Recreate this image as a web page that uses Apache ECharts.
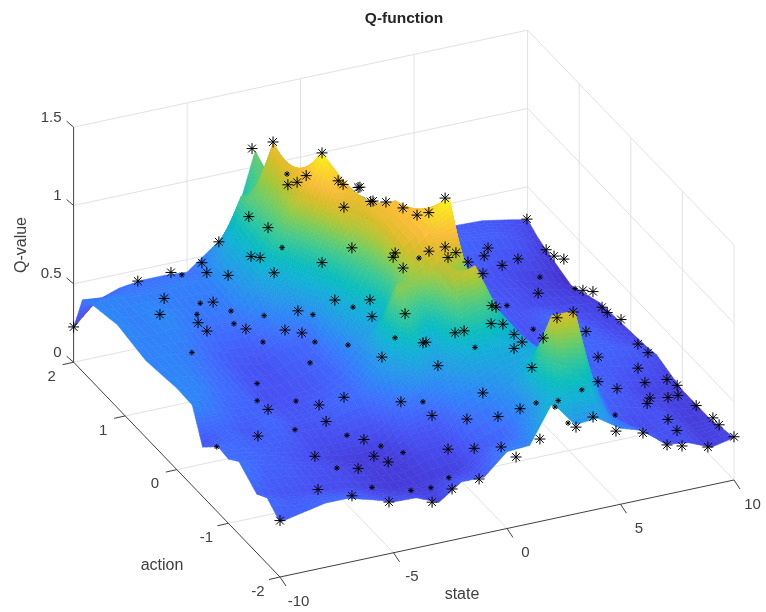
<!DOCTYPE html>
<html><head><meta charset="utf-8"><style>html,body{margin:0;padding:0;background:#fff}#c{width:766px;height:612px}</style>
<script src="https://cdn.jsdelivr.net/npm/echarts@6/dist/echarts.min.js"></script></head><body><div id="c"></div>
<script>
var stateTicks=[-10,-5,0,5,10];
var actionTicks=[-2,-1,0,1,2];
var qTicks=[0,0.5,1,1.5];
var states=[-10,-9,-8,-7,-6,-5,-4,-3,-2,-1,0,1,2,3,4,5,6,7,8,9,10];
var actions=[2,1.83,1.65,1.15,0.6,0,-0.3,-0.5,-0.8,-1,-1.2,-1.55,-1.75,-2];
var qA=[.22,.36,.41,.43,.43,.42,.53,.63,1.10,.8,.75,.68,.6,.5,.42,.38,.36,.35,.345,.32,.29];
var qA2=[.455,.44,.45,.45,.46,.45,.58,.9,.9,.88,.9,.78,.7,.57,.48,.42,.38,.36,.35,.31,.25];
var qB=[.49,.5,.48,.475,.49,.48,.65,.9,1.27,1.0,1.04,.88,.8,.65,.55,.45,.40,.37,.36,.31,.22];
var qC=[.53,.48,.53,.48,.45,.47,.6,.85,1.08,1.35,1.13,.9,.7,.55,.45,.36,.32,.3,.25,.22,.16];
var qD=[.49,.5,.47,.4,.34,.31,.38,.4,.7,.98,1.15,1.17,1.05,1.08,.42,.38,.33,.3,.28,.26,.24];
var qE=[.52,.5,.42,.38,.3,.32,.33,.4,.55,.68,1.1,1.22,1.36,.6,.42,.34,.3,.45,.36,.3,.26];
var qE2=[.515,.45,.38,.38,.33,.33,.37,.42,.58,1.0,1.0,1.1,.95,.72,.5,.38,.32,.4,.37,.32,.27];
var qF=[.315,.4,.33,.4,.33,.33,.4,.42,.6,.89,.65,1.05,1.1,.79,.6,.42,.35,.38,.38,.35,.285];
var qF2=[.42,.4,.37,.37,.3,.28,.28,.3,.42,.5,.55,.68,.68,.68,.62,.52,.38,.36,.32,.29,.25];
var qG=[.41,.4,.37,.32,.28,.24,.22,.22,.32,.32,.5,.55,.62,.65,.7,.6,.4,.35,.28,.25,.23];
var qG2=[.465,.38,.36,.32,.3,.26,.23,.22,.28,.29,.42,.48,.58,.72,.9,.7,.38,.34,.28,.25,.23];
var qH=[.375,.33,.32,.3,.29,.25,.215,.22,.23,.25,.35,.39,.55,1.11,1.11,.5,.32,.29,.32,.23,.23];
var qH2=[.42,.36,.36,.35,.33,.28,.26,.24,.29,.3,.42,.45,.62,.85,.8,.49,.38,.3,.31,.235,.25];
var qI=[.35,.38,.41,.41,.37,.325,.32,.26,.36,.36,.49,.50,.74,.57,.58,.485,.44,.32,.30,.24,.27];
var qGrid=[qA,qA2,qB,qC,qD,qE,qE2,qF,qF2,qG,qG2,qH,qH2,qI];
// the two tallest back spikes read cooler in colour than their height: [row, column, colour value]
var colourValues=[[0,8,.95],[2,8,1.15]];
// samples: state, action, q
var samples=[[-2.14,2,1.12],[-2.35,1.5,1.34],[-1.33,1,1.41],[-.56,2,.84],[-1.29,1.5,1.05],[-.89,1.5,1.08],[-.62,1,1.21],[-.4,1,1.18],[.26,1,1.14],[-1.5,.5,1.24],[-2.28,2,.69],[-2.57,1.5,.8],[-3.6,2,.57],[-1.15,.5,.97],[-4.35,2,.46],[-1.33,1,.71],[-3.32,1.5,.64],[-2.92,1.5,.62],[-3.44,1,.71],[-4.13,2,.39],[-4.33,1.5,.55],[-5.71,2,.44],[-7.17,2,.43],[-1.9,.5,.66],[-7.15,1.5,.49],[-4.99,1.5,.4],[-2.39,1,.435],[-8.47,1,.6],[-6.79,1,.495],[-6.4,1,.43],[-4.68,1,.39],[-2.96,1,.33],[-3.35,.5,.495],[-10,2,.225],
[.34,1,1.14],[-.32,.5,1.24],[-.22,.5,1.24],[.35,.5,1.216],[1.1,.5,1.155],[1.72,.5,1.09],[2.24,.5,1.09],[1.82,0,1.367],[-.38,0,1.085],[-.47,0,1.06],[-.03,0,.978],[1.11,0,1.05],[1.82,0,1.055],[1.16,-.5,1.21],[.81,-.5,1.19],[1.69,-.5,1.134],[7.12,1.5,.37],[6.95,1.5,.325],[8.44,1.5,.26],[7.74,1.5,.24],[5.76,1,.42],[9.68,1.5,.28],[9.8,1.4,.27],[9.78,1.2,.32],[9.97,2,.295],[8.19,1,.22],[9.71,.8,.26],[9.81,.65,.3],[9.87,.5,.25],[9.87,.4,.25],[9.91,.15,.29],[9.86,-.2,.255],
[-1.49,0,.82],[-1.4,0,.71],[-1.08,-.5,.89],[-.16,-.5,.68],[-.29,-.5,.68],[1.12,-.5,.7],[1.52,-.5,.7],[5.02,.5,.41],[5.2,.5,.395],[2.71,-.5,.71],[3.23,-.5,.69],[3.72,-.5,.61],[4.07,-.5,.55],[3.72,-.5,.52],[6.14,0,.34],[3.34,-1.5,1.07],[4.05,-1.5,1.085],[6.89,-.5,.53],[7.42,-.5,.35],[9.18,-.5,.225],[3.37,-1,.58],[-2.1,-.5,.645],[-.77,-1,.72],[1.21,-1,.485],[-3.77,-.5,.44],[-2.4,-1,.54],[6.28,-1,.4],[7.12,-1,.33],[-1.03,-1,.41],[.51,-1,.34],[.74,-1.5,.52],[1.71,-1.5,.54],
[8.35,-1,.33],[9.32,-1,.32],[9.54,-1.1,.31],[9.62,-.5,.31],[8.57,-1,.225],[8.23,-1.5,.41],[8.67,-1.5,.41],[7.31,-1.5,.4],[9.47,-1.5,.32],[8.23,-1.5,.27],[8.17,-1.7,.27],[9.98,-1.6,.26],[9.8,-1.8,.29],[10,-2,.276],[8.85,-2,.246],[7.71,-2,.288],[7.05,-2,.315],[5.99,-2,.424],[4.8,-2,.473],[3.79,-2,.594],[3.04,-2,.553],[1.45,-2,.526],[.4,-2,.444],[-.26,-2,.528],[-1.23,-2,.354],[-.31,-1.5,.35],[-1.46,-1.5,.38],[-2.42,-2,.327],[-3.3,-2,.27],
[-5.98,0,.26],[-4.87,-.5,.425],[-4.56,-.5,.31],[-7.56,-.5,.31],[-4.03,-1,.35],[-6.19,-1,.31],[-3.59,-1,.23],[-4.1,-1.5,.38],[-5.42,-1.5,.38],[-7.19,-1.5,.3],[-6.83,-2,.42],[-5.2,-2,.33],[-10,-2,.36]];
// samples partly sunk into the surface, only a fragment shows
var sunkSamples=[[-.6,2,.91],[-3.09,1,.86],[-5.23,2,.41],[-1.1,.5,.59],[-5.56,1.5,.41],[-1.73,1,.39],[-3.88,1,.45],[-5.34,1,.525],[-6.84,1,.55],[-5.21,1,.44],[-5.07,.5,.49],[-2.78,.5,.42],[-1.32,.5,.355],[-8.2,.5,.52],[-1.52,-.5,.75],[.67,0,1.02],[8.27,1,.32],[9.82,1,.2],[2,-.5,.58],[5.68,.5,.39],[5.7,0,.41],[5.57,-1,.37],[3.39,-1.5,.54],[2.42,-1.5,.555],[-1.43,-1,.51],[2.69,-2,.59],[2.11,-2,.71],[-1.88,-1.7,.28],[-2.67,-1.7,.24],[-3.55,-1.7,.25],[5.9,-1.5,.37],[-4.13,0,.5],[-6.46,0,.44],[-6.46,0,.33],[-4.75,0,.275],[-5.93,-.5,.3],[-9.83,-.7,.38],[-4.78,-1,.4],[-3.28,-1,.285],[-5.22,-1,.205],[-3.44,-1.5,.42],[-4.81,-1.5,.24]];
var parula=[[.2422,.1504,.6603],[.2706,.2147,.8364],[.2810,.3228,.9579],[.2440,.4358,.9988],[.1786,.5289,.9682],[.1540,.5902,.9218],[.0689,.6948,.8394],[.0433,.7411,.7394],[.2161,.7843,.5923],[.4456,.8024,.3909],[.6720,.7793,.2227],[.8634,.7406,.1596],[.9956,.7434,.2371],[.9786,.8386,.1766],[.9769,.9839,.0805]];
var parulaAt=[0,4,9,14,18,21,27,31,36,41,45,49,53,57,63];
var cMin=.08,cMax=1.36,cGamma=1.15;
var colourGrid=qGrid.map(function(row){return row.slice();});
colourValues.forEach(function(e){colourGrid[e[0]][e[1]]=e[2];});
function color(z){
  var t=Math.pow(Math.max(0,Math.min(1,(z-cMin)/(cMax-cMin))),cGamma)*63,k=0;
  while(k<parulaAt.length-2&&parulaAt[k+1]<t)k++;
  var f=(t-parulaAt[k])/(parulaAt[k+1]-parulaAt[k]),a=parula[k],b=parula[k+1];
  return 'rgb('+[0,1,2].map(function(i){return Math.round(255*(a[i]+(b[i]-a[i])*f));}).join(',')+')';
}
// orthographic view of the 3D box
function project(s,a,q){
  var S=s+10,A=a+2;
  return [280+22.7*S-51.6*A,577-4.85*S-53.7*A-156.7*q];
}
function lineEl(api,p,q,stroke,w){
  var P=api.coord(p),Q=api.coord(q);
  return {type:'line',silent:true,shape:{x1:P[0],y1:P[1],x2:Q[0],y2:Q[1]},style:{stroke:stroke,lineWidth:w}};
}
function renderGrid(params,api){
  var ch=[],c='#e2e2e2';
  qTicks.forEach(function(q){
    if(q>0)ch.push(lineEl(api,project(-10,2,q),project(10,2,q),c,1));
    if(q>0)ch.push(lineEl(api,project(10,2,q),project(10,-2,q),c,1));
  });
  stateTicks.forEach(function(s){
    if(s>-10)ch.push(lineEl(api,project(s,2,0),project(s,2,1.5),c,1));
    if(s<10&&s>-10)ch.push(lineEl(api,project(s,-2,0),project(s,2,0),c,1));
  });
  actionTicks.forEach(function(a){
    if(a<2)ch.push(lineEl(api,project(10,a,0),project(10,a,1.5),c,1));
    if(a>-2&&a<2)ch.push(lineEl(api,project(-10,a,0),project(10,a,0),c,1));
  });
  ch.push(lineEl(api,project(-10,2,0),project(10,2,0),c,1));
  ch.push(lineEl(api,project(10,2,0),project(10,-2,0),c,1));
  return {type:'group',children:ch};
}
function subCount(d){return Math.max(3,Math.min(22,Math.ceil(d/.03)));}
function renderCell(params,api){
  var r=api.value(0),c=api.value(1),ch=[];
  var a0=actions[r],a1=actions[r+1],s0=states[c],s1=states[c+1];
  var z00=qGrid[r][c],z01=qGrid[r][c+1],z10=qGrid[r+1][c],z11=qGrid[r+1][c+1];
  var c00=colourGrid[r][c],c01=colourGrid[r][c+1],c10=colourGrid[r+1][c],c11=colourGrid[r+1][c+1];
  var NU=subCount(Math.max(Math.abs(z00-z10),Math.abs(z01-z11))),NV=subCount(Math.max(Math.abs(z00-z01),Math.abs(z10-z11)));
  function mix(p,q,s,t,u,v){return (1-u)*((1-v)*p+v*q)+u*((1-v)*s+v*t);}
  function P(u,v){return api.coord(project(s0+(s1-s0)*v,a0+(a1-a0)*u,mix(z00,z01,z10,z11,u,v)));}
  for(var i=0;i<NU;i++)for(var j=NV-1;j>=0;j--){
    var u0=i/NU,u1=(i+1)/NU,v0=j/NV,v1=(j+1)/NV;
    var col=color(mix(c00,c01,c10,c11,(u0+u1)/2,(v0+v1)/2));
    ch.push({type:'polygon',silent:true,shape:{points:[P(u0,v0),P(u0,v1),P(u1,v1),P(u1,v0)]},style:{fill:col,stroke:col,lineWidth:.6}});
  }
  return {type:'group',children:ch};
}
function starRenderer(R){
  return function(params,api){
    var p=api.coord(project(api.value(0),api.value(1),api.value(2))),ch=[],d=R*.707;
    [[R,0],[0,R],[d,d],[d,-d]].forEach(function(v){
      ch.push({type:'line',silent:true,shape:{x1:p[0]-v[0],y1:p[1]-v[1],x2:p[0]+v[0],y2:p[1]+v[1]},style:{stroke:'#000',lineWidth:1}});
    });
    return {type:'group',children:ch};
  };
}
function label(api,pt,dx,dy,t,align){
  var P=api.coord(pt);
  return {type:'text',silent:true,style:{x:P[0]+dx,y:P[1]+dy,text:String(t),fill:'#404040',font:'15px "Liberation Sans",Arial,sans-serif',textAlign:align,textVerticalAlign:'middle'}};
}
function renderAxes(params,api){
  var ch=[],c='#404040';
  ch.push(lineEl(api,project(-10,2,0),project(-10,2,1.5),c,1));
  ch.push(lineEl(api,project(-10,2,0),project(-10,-2,0),c,1));
  ch.push(lineEl(api,project(-10,-2,0),project(10,-2,0),c,1));
  qTicks.forEach(function(q){
    var p=api.coord(project(-10,2,q));
    ch.push({type:'line',silent:true,shape:{x1:p[0],y1:p[1],x2:p[0]-7,y2:p[1]-6},style:{stroke:c,lineWidth:1}});
    ch.push(label(api,project(-10,2,q),-12,-9.5,q,'right'));
  });
  actionTicks.forEach(function(a){
    var p=api.coord(project(-10,a,0));
    ch.push({type:'line',silent:true,shape:{x1:p[0],y1:p[1],x2:p[0]-11,y2:p[1]+2.5},style:{stroke:c,lineWidth:1}});
    ch.push(label(api,project(-10,a,0),-22,14.5,a,'center'));
  });
  stateTicks.forEach(function(s){
    var p=api.coord(project(s,-2,0));
    ch.push({type:'line',silent:true,shape:{x1:p[0],y1:p[1],x2:p[0]+6,y2:p[1]+9},style:{stroke:c,lineWidth:1}});
    ch.push(label(api,project(s,-2,0),18.5,24.5,s,'center'));
  });
  return {type:'group',children:ch};
}
var cells=[];
for(var r=0;r<actions.length-1;r++)for(var c=states.length-2;c>=0;c--)cells.push([r,c]);
var chart=echarts.init(document.getElementById('c'),null,{renderer:'canvas'});
var axisFont='"Liberation Sans",Arial,sans-serif';
chart.setOption({
  animation:false,backgroundColor:'#fff',
  title:{text:'Q-function',left:399,top:6,textAlign:'center',textStyle:{fontFamily:axisFont,fontSize:15.5,fontWeight:'bold',color:'#262626'}},
  grid:{left:0,right:0,top:0,bottom:0},
  xAxis:{type:'value',min:0,max:766,show:false},
  yAxis:{type:'value',min:0,max:612,inverse:true,show:false},
  tooltip:{show:false},
  graphic:[
    {type:'text',silent:true,x:22,y:245,rotation:Math.PI/2,style:{text:'Q-value',fill:'#404040',font:'16px '+axisFont,textAlign:'center',textVerticalAlign:'middle'}},
    {type:'text',silent:true,x:162,y:566,style:{text:'action',fill:'#404040',font:'16px '+axisFont,textAlign:'center',textVerticalAlign:'middle'}},
    {type:'text',silent:true,x:462,y:595,style:{text:'state',fill:'#404040',font:'16px '+axisFont,textAlign:'center',textVerticalAlign:'middle'}}
  ],
  series:[
    {type:'custom',coordinateSystem:'cartesian2d',clip:false,silent:true,z:1,renderItem:renderGrid,data:[[0]]},
    {type:'custom',coordinateSystem:'cartesian2d',clip:false,silent:true,z:2,renderItem:renderCell,data:cells,progressive:0},
    {type:'custom',coordinateSystem:'cartesian2d',clip:false,silent:true,z:3,renderItem:renderAxes,data:[[0]]},
    {type:'custom',coordinateSystem:'cartesian2d',clip:false,silent:true,z:4,renderItem:starRenderer(5.5),data:samples,progressive:0},
    {type:'custom',coordinateSystem:'cartesian2d',clip:false,silent:true,z:4,renderItem:starRenderer(2.8),data:sunkSamples,progressive:0}
  ]
});
</script></body></html>
